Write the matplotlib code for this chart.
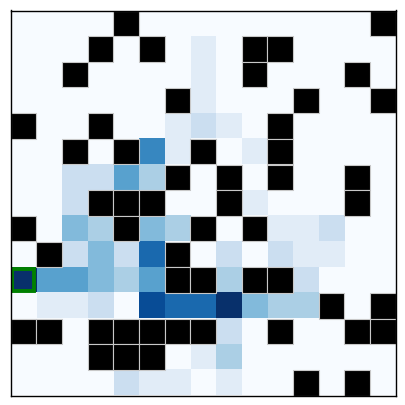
import matplotlib
matplotlib.use("Agg")
import matplotlib.pyplot as plt
from matplotlib.patches import Rectangle
import numpy as np

# wall layout: '#' = wall, 'S' = start, '.' = free
wall_map = [
    "....#.........#",
    "...#.#...##....",
    "..#......#...#.",
    "......#....#..#",
    "#..#......#....",
    "..#.#..#..#....",
    "......#.#.#..#.",
    "...###..#....#.",
    "#...#..#.#.....",
    ".#....#........",
    "S.....##.##....",
    "............#.#",
    "##.#####..#..##",
    "...###.........",
    "...........#.#.",
]

# visit counts per cell (0 on walls)
visits = [
    [0, 0, 0, 0, 0, 0, 0, 0, 0, 0, 0, 0, 0, 0, 0],
    [0, 0, 0, 0, 0, 0, 0, 1, 0, 0, 0, 0, 0, 0, 0],
    [0, 0, 0, 0, 0, 0, 0, 1, 0, 0, 0, 0, 0, 0, 0],
    [0, 0, 0, 0, 0, 0, 0, 1, 0, 0, 0, 0, 0, 0, 0],
    [0, 0, 0, 0, 0, 0, 1, 2, 1, 0, 0, 0, 0, 0, 0],
    [0, 0, 0, 0, 0, 6, 1, 0, 0, 1, 0, 0, 0, 0, 0],
    [0, 0, 2, 2, 5, 3, 0, 0, 0, 0, 0, 0, 0, 0, 0],
    [0, 0, 2, 0, 0, 0, 0, 0, 0, 1, 0, 0, 0, 0, 0],
    [0, 0, 4, 3, 0, 4, 3, 0, 0, 0, 1, 1, 2, 0, 0],
    [0, 0, 2, 4, 2, 7, 0, 0, 2, 0, 2, 1, 1, 0, 0],
    [9, 5, 5, 4, 3, 5, 0, 0, 3, 0, 0, 2, 0, 0, 0],
    [0, 1, 1, 2, 0, 8, 7, 7, 9, 4, 3, 3, 0, 0, 0],
    [0, 0, 0, 0, 0, 0, 0, 0, 2, 0, 0, 0, 0, 0, 0],
    [0, 0, 0, 0, 0, 0, 0, 1, 3, 0, 0, 0, 0, 0, 0],
    [0, 0, 0, 0, 2, 1, 1, 0, 1, 0, 0, 0, 0, 0, 0],
]

counts = np.array(visits, dtype=float)
n_rows, n_cols = counts.shape

fig = plt.figure(figsize=(4.05, 4.05), dpi=100)
ax = fig.add_axes([10.5 / 405, 9.5 / 405, 385 / 405, 385 / 405])
ax.imshow(counts, cmap="Blues", vmin=0, vmax=counts.max(),
          interpolation="nearest", aspect="auto")

for r, line in enumerate(wall_map):
    for c, ch in enumerate(line):
        if ch == "#":
            ax.add_patch(Rectangle((c - 0.5, r - 0.5), 1, 1, facecolor="black",
                                   edgecolor="#c8c8c8", linewidth=0.8))
        elif ch == "S":
            inset = 0.075
            ax.add_patch(Rectangle((c - 0.5 + inset, r - 0.5 + inset),
                                   1 - 2 * inset, 1 - 2 * inset, fill=False,
                                   edgecolor="green", linewidth=2.8))

ax.set_xlim(-0.5, n_cols - 0.5)
ax.set_ylim(n_rows - 0.5, -0.5)
ax.set_xticks([])
ax.set_yticks([])
for s in ax.spines.values():
    s.set_linewidth(1.0)

fig.savefig("out.png", dpi=100)
